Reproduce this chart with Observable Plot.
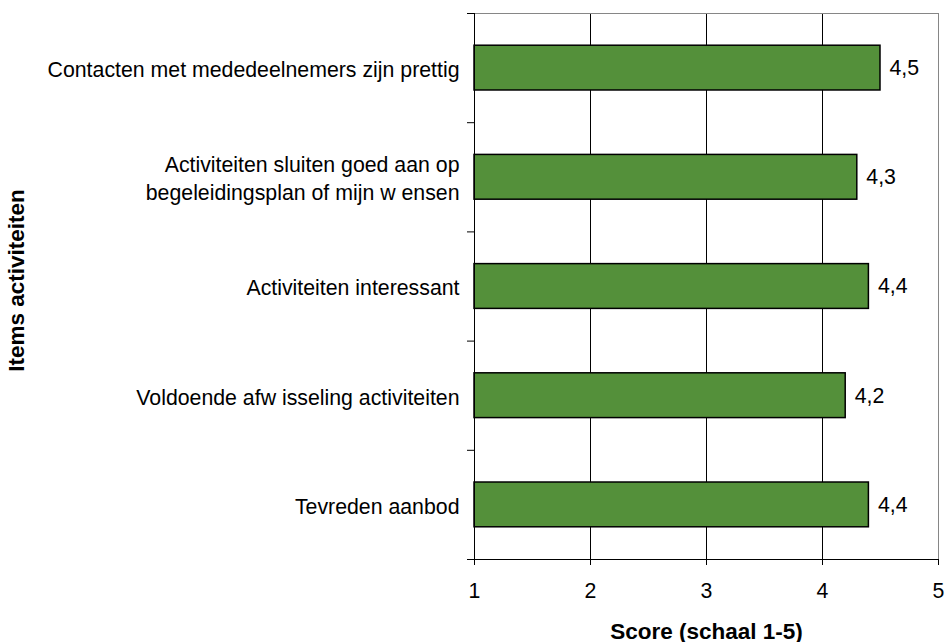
<!DOCTYPE html>
<html>
<head>
<meta charset="utf-8">
<script src="https://cdn.jsdelivr.net/npm/d3@7"></script>
<script src="https://cdn.jsdelivr.net/npm/@observablehq/plot@0.6"></script>
<style>
  html, body { margin: 0; padding: 0; background: #fff; }
</style>
</head>
<body>
<div id="chart"></div>
<script>
// Satisfaction scores per activity item (scale 1–5)
const categories = [
  "Contacten met mededeelnemers zijn prettig",
  "Activiteiten sluiten goed aan op\nbegeleidingsplan of mijn w ensen",
  "Activiteiten interessant",
  "Voldoende afw isseling activiteiten",
  "Tevreden aanbod"
];
const scores = [4.5, 4.3, 4.4, 4.2, 4.4];
const xTicks = [1, 2, 3, 4, 5];
const xTitle = "Score (schaal 1-5)";
const yTitle = "Items activiteiten";

// Each item sits in a unit-wide slot on the vertical scale, centred on i + 0.5
const rows = categories.map((category, i) => ({category, score: scores[i], pos: i + 0.5}));
const barHalf = 0.205;
const fmt = v => v.toFixed(1).replace(".", ",");

const chart = Plot.plot({
  width: 946,
  height: 642,
  marginLeft: 474,
  marginRight: 8,
  marginTop: 13,
  marginBottom: 83,
  style: {fontFamily: "'Liberation Sans', Arial, sans-serif", fontSize: "21px", color: "#000", background: "#fff"},
  x: {domain: [1, 5]},
  y: {domain: [0, categories.length], reverse: true},
  marks: [
    Plot.gridX(xTicks.slice(1, -1), {stroke: "#000", strokeOpacity: 1}),
    Plot.frame({stroke: "#868686"}),
    Plot.rectX(rows, {
      x1: xTicks[0], x2: "score",
      y1: d => d.pos - barHalf, y2: d => d.pos + barHalf,
      fill: "#54903a", stroke: "#000", strokeWidth: 1.5
    }),
    Plot.text(rows, {x: "score", y: "pos", text: d => fmt(d.score), textAnchor: "start", dx: 9, fontSize: 21.3}),
    Plot.ruleX([xTicks[0]], {stroke: "#000"}),
    Plot.ruleY([categories.length], {stroke: "#000"}),
    Plot.axisX(xTicks, {tickSize: 6, tickPadding: 17, fontSize: 21.3, tickFormat: d => String(d), label: null}),
    Plot.axisY(d3.range(categories.length + 1), {tickSize: 7, tickFormat: () => "", label: null}),
    Plot.axisY(rows.map(d => d.pos), {
      tickSize: 0, tickPadding: 15, fontSize: 21.3, lineHeight: 1.31,
      tickFormat: v => categories[Math.floor(v)], label: null
    }),
    Plot.text([xTitle], {frameAnchor: "bottom", dy: 79, fontWeight: "bold", fontSize: 22.5}),
    Plot.text([yTitle], {frameAnchor: "left", textAnchor: "middle", rotate: -90, dx: -458, dy: -6, fontWeight: "bold", fontSize: 22.5})
  ]
});

document.getElementById("chart").append(chart);
</script>
</body>
</html>
